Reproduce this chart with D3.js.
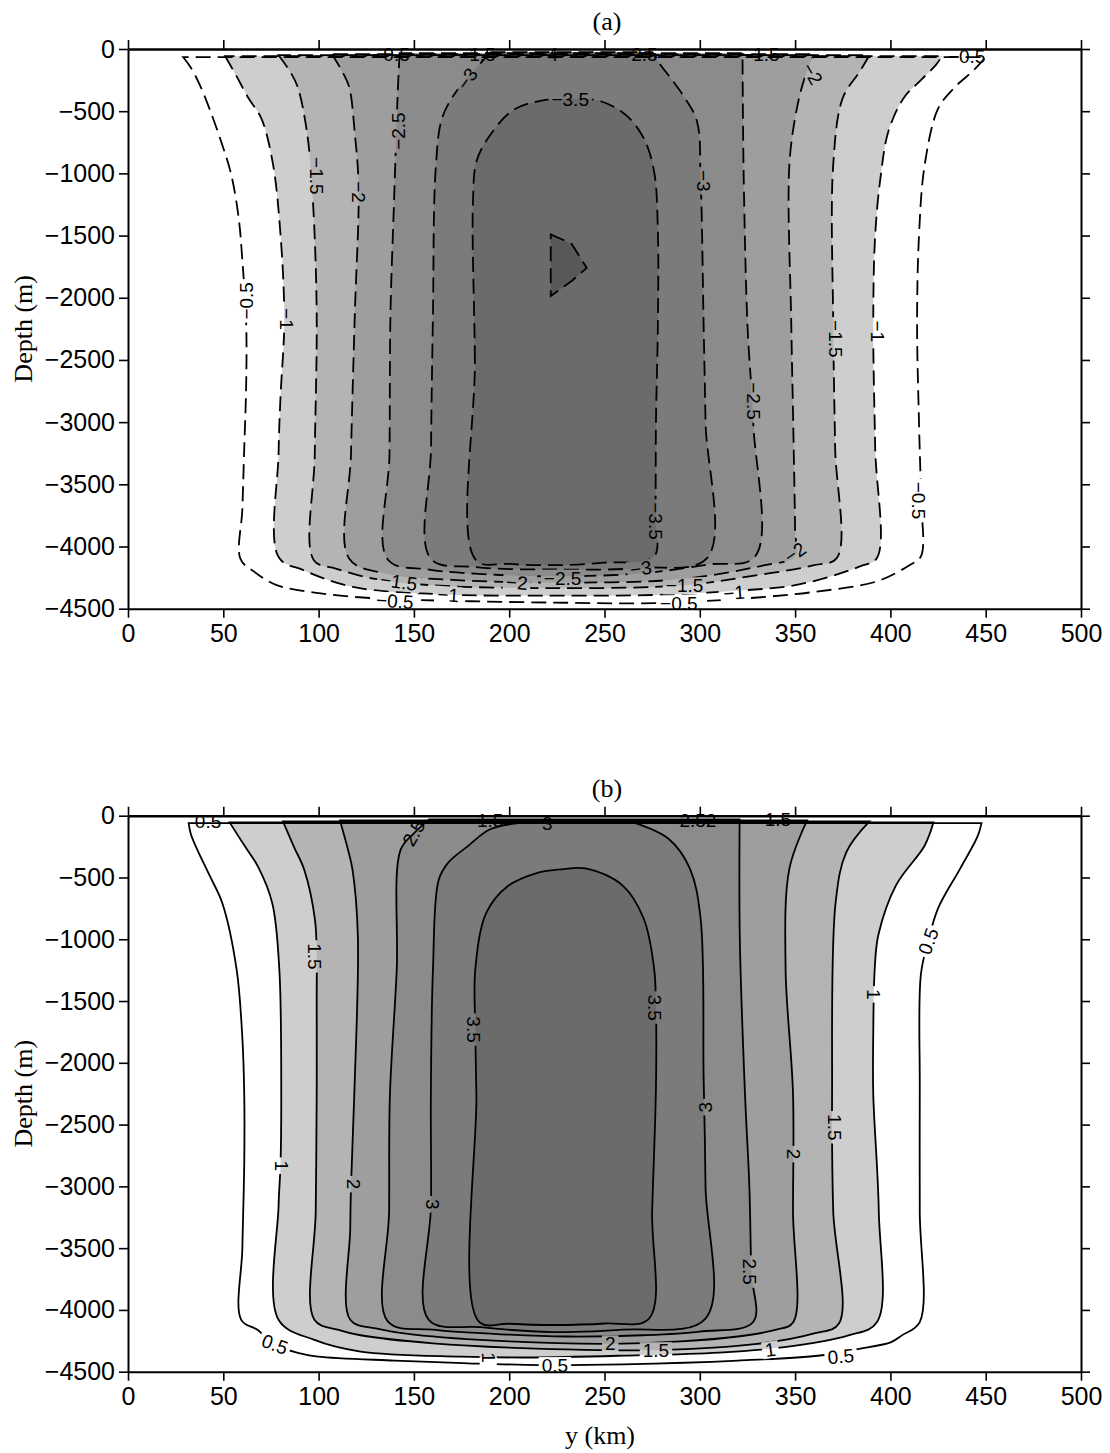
<!DOCTYPE html>
<html><head><meta charset="utf-8">
<script src="https://cdn.jsdelivr.net/npm/d3@7"></script>
<style>body{margin:0;background:#fff}</style>
</head><body>
<svg id="chart" width="1110" height="1453"></svg>
<script>
// ---------- data ----------
const xTicks = [0,50,100,150,200,250,300,350,400,450,500];
const yTicks = [0,-500,-1000,-1500,-2000,-2500,-3000,-3500,-4000,-4500];
const levelsA = [-0.5,-1,-1.5,-2,-2.5,-3,-3.5,-4];
const levelsB = [0.5,1,1.5,2,2.5,3,3.5];
const shades = ["#ffffff","#cecece","#b4b4b4","#9e9e9e","#8b8b8b","#7b7b7b","#6b6b6b","#585858"];

// panel (a) contour lines: [y km, depth m]
const cA_m05 = [[29,-66],[33,-150],[38,-300],[43,-490],[49,-750],[54,-1000],[58,-1350],[60,-1700],[62,-2200],[62,-2700],[61,-3200],[60,-3700],[59,-4100],[66,-4200],[78,-4310],[100,-4375],[130,-4417],[180,-4440],[230,-4452],[278,-4455],[326,-4415],[360,-4365],[393,-4280],[410,-4150],[416,-4080],[416,-3600],[415,-3000],[414,-2215],[415,-1500],[418,-930],[425,-480],[433,-320],[444,-166],[450,-66]];
const cA_m1 = [[51,-58],[57,-220],[63,-390],[70,-560],[76,-920],[80,-1490],[82,-2180],[80,-2800],[79,-3250],[79,-4085],[92,-4190],[118,-4325],[165,-4385],[220,-4395],[275,-4390],[315,-4360],[352,-4305],[384,-4160],[393,-4090],[392,-3200],[391,-2215],[392,-1500],[395,-1010],[399,-660],[407,-394],[416,-250],[424,-126],[427,-58]];
const cA_m15 = [[79,-50],[85,-180],[89,-304],[94,-680],[97,-1218],[99,-2132],[98,-3254],[97.5,-4110],[109,-4177],[128,-4257],[158,-4310],[225,-4335],[291,-4312],[326,-4240],[360,-4150],[372,-4090],[371,-3200],[370,-2215],[370,-930],[375,-394],[384,-179],[389,-50]];
const cA_m2 = [[107,-42],[112,-170],[116,-304],[119,-680],[121,-1110],[119,-2132],[117,-3254],[116,-4096],[135,-4217],[170,-4268],[225,-4290],[290,-4262],[334,-4150],[350,-4080],[350,-3875],[349,-3000],[348,-2215],[347,-930],[351,-474],[355,-233],[360,-42]];
const cA_m25 = [[142.5,-34],[141.5,-357],[139.6,-1218],[137.7,-2132],[137.2,-3254],[136.3,-4104],[158,-4185],[190,-4225],[225,-4240],[270,-4215],[304,-4145],[329,-4080],[328,-3000],[325,-2215],[323,-1000],[322.4,-34]];
const cA_m3 = [[190,-26],[183,-150],[174,-304],[165,-546],[161.5,-949],[160,-2132],[159,-3200],[158.8,-4096],[182,-4165],[225,-4185],[269,-4172],[304,-4090],[303,-3000],[302,-2215],[300.4,-1036],[298.5,-581],[291,-367],[278,-99],[275,-26]];
const cA_m35 = [[182.5,-4108],[182,-2500],[181,-1218],[183,-895],[190.6,-680],[202,-492],[217,-415],[233,-400],[248,-420],[261,-528],[270.5,-715],[276,-983],[278,-1465],[278,-2215],[277,-3000],[276.7,-3767],[276,-4080],[250,-4130],[225,-4150],[200,-4140]];
const cA_m4 = [[221.8,-1490],[232.8,-1567],[240.7,-1760],[232.8,-1865],[221.8,-1986]];

// panel (b) contour lines
const cB_05 = [[31.8,-60],[33,-150],[36.4,-277],[43,-490],[49.5,-708],[57,-1246],[60,-1800],[61,-2269],[61,-2800],[60,-3500],[59.4,-4080],[67.9,-4161],[77,-4283],[90.3,-4351],[99.7,-4378],[140,-4410],[178.4,-4432],[216,-4446],[260,-4440],[320,-4410],[363,-4369],[383.6,-4315],[400.4,-4261],[406,-4206],[415.4,-4098],[415.4,-3200],[415.4,-2196],[416,-1285],[419.8,-1017],[425,-750],[436.6,-428],[445.9,-161],[447.8,-60]];
const cB_1 = [[53.3,-54],[61,-240],[68.2,-412],[75.7,-708],[79.4,-1246],[80.4,-2269],[80,-2833],[79,-3159],[79,-4080],[97.8,-4243],[122,-4337],[174.7,-4378],[210,-4385],[260,-4370],[310,-4345],[344.4,-4301],[378,-4206],[393,-4098],[393.9,-3200],[391,-2249],[391,-1767],[391.8,-1231],[393.7,-964],[403,-562],[418,-241],[422.6,-54]];
const cB_15 = [[81.3,-46],[87,-250],[92.5,-439],[98.1,-843],[99,-1138],[99,-1462],[99,-2269],[98.5,-3200],[97.8,-4080],[110,-4160],[122,-4205],[160,-4270],[230,-4320],[277,-4325],[330,-4275],[360,-4190],[373,-4110],[370,-3200],[369.4,-2249],[371.3,-696],[376.9,-294],[389,-46]];
const cB_2 = [[111.2,-38],[115,-250],[117.8,-439],[120.6,-977],[118.7,-2269],[117,-3000],[116.6,-3348],[116.6,-4080],[130,-4150],[150,-4200],[200,-4255],[252.8,-4274],[290,-4255],[320,-4215],[340,-4160],[349,-4100],[348.9,-3200],[348.9,-2249],[345,-1231],[347,-428],[356.3,-38]];
const cB_25 = [[158,-30],[150,-143],[143,-277],[141,-1246],[137.4,-2269],[137,-3200],[136.3,-4093],[160,-4160],[200,-4200],[230,-4215],[270,-4205],[300,-4175],[328,-4098],[327,-3690],[326,-3000],[323.7,-2249],[321,-1000],[320.9,-30]];
const cB_3 = [[206,-58],[190,-110],[178,-250],[168,-380],[163,-520],[160,-1246],[158.9,-2269],[159,-3145],[157.8,-4080],[185,-4140],[222.9,-4179],[260,-4160],[303,-4070],[303,-3000],[302,-2115],[300.4,-830],[294.8,-428],[283.6,-187],[265,-54]];
const cB_35 = [[184,-4093],[182.8,-2269],[182.2,-1731],[182.2,-1246],[187.9,-789],[199,-573],[214,-466],[226.7,-435],[240.7,-428],[259.3,-562],[270.5,-830],[276,-1231],[277,-1553],[277,-2196],[275,-3200],[273.4,-4070],[250,-4110],[222.9,-4122],[200,-4112]];

// contour labels: [text, y km, depth m, rotation deg]
const labelsA = [
  ["−0.5",62,-2025,-90],["−1",83,-2170,90],["−1.5",99,-1020,90],["−2",121,-1150,90],
  ["−2.5",142,-660,-90],["−3",178,-241,-55],["−3.5",232,-405,0],["−3",302,-1060,90],
  ["−2.5",328,-2830,90],["−2",359,-200,60],["−1.5",371,-2330,90],["−1",393,-2270,90],
  ["−0.5",415,-3630,90],["−3.5",277,-3795,90],
  ["−1.5",142,-4285,8],["−0.5",140,-4440,4],["−1",168,-4390,4],["−2",204,-4292,4],
  ["−2.5",228,-4255,0],["−3",269,-4178,-8],["−1.5",292,-4316,0],["−1",318,-4373,-4],
  ["−0.5",289,-4462,0],["−2",350,-4050,-35]
];
const topLabelsA = [["−0.5",138,-45,0],["−1.5",183,-45,0],["−4",220,-45,0],["−2.5",268,-45,0],["−1.5",332,-45,0],["−0.5",440,-60,0]];
const labelsB = [
  ["1.5",98,-1139,90],["3.5",181.5,-1731,90],["3.5",276,-1553,90],["1",391,-1446,90],
  ["0.5",420,-1017,-70],["1",80.5,-2833,90],["2",118.5,-2982,90],["3",160,-3145,90],
  ["3",303,-2359,-90],["1.5",370.5,-2522,90],["2",349,-2739,90],["2.5",326,-3690,90],
  ["0.5",77,-4280,20],["1",189,-4385,90],["0.5",224,-4450,0],["2",253,-4274,0],
  ["1.5",277,-4330,0],["1",337,-4322,-8],["0.5",374,-4377,-5]
];
const topLabelsB = [["0.5",42,-50,0],["2.5",150,-140,-60],["1.5",190,-40,0],["3",220,-62,0],["2.52",299,-40,0],["1.5",341,-32,0]];

// ---------- drawing ----------
const svg = d3.select("#chart");
const X0 = 128, X1 = 1081;
const x = d3.scaleLinear().domain([0,500]).range([X0,X1]);
const SANS = "'Liberation Sans', Arial, Helvetica, sans-serif";
const SERIF = "'Liberation Serif', 'Times New Roman', serif";

function drawPanel(id, top, bottom, contours, labels, topLabels, dashed, title, showXLabel) {
  const y = d3.scaleLinear().domain([0,-4500]).range([top,bottom]);
  const g = svg.append("g");
  const defs = svg.append("defs");
  defs.append("clipPath").attr("id","clip"+id).append("rect")
    .attr("x",X0).attr("y",top).attr("width",X1-X0).attr("height",bottom-top);
  const mask = defs.append("mask").attr("id","mask"+id).attr("maskUnits","userSpaceOnUse")
    .attr("x",0).attr("y",0).attr("width",1110).attr("height",1453);
  mask.append("rect").attr("x",0).attr("y",0).attr("width",1110).attr("height",1453).attr("fill","#fff");
  const fs = 19;
  labels.forEach(l=>{
    let w = 0; for (const ch of l[0]) w += (ch==="."?0.28:(ch==="−"?0.58:0.556))*fs;
    mask.append("rect").attr("x",-w/2-3).attr("y",-fs*0.45).attr("width",w+6).attr("height",fs*0.9)
      .attr("transform",`translate(${x(l[1])},${y(l[2])}) rotate(${l[3]})`).attr("fill","#000");
  });

  const lineOpen = d3.line().x(d=>x(d[0])).y(d=>y(d[1])).curve(d3.curveCatmullRom.alpha(0.5));
  const lineLoop = d3.line().x(d=>x(d[0])).y(d=>y(d[1])).curve(d3.curveCatmullRomClosed.alpha(0.5));
  const linePoly = d3.line().x(d=>x(d[0])).y(d=>y(d[1])).curve(d3.curveLinearClosed);
  const pathOf = c => c.type==="open" ? lineOpen(c.pts)+"Z" : (c.type==="loop" ? lineLoop(c.pts) : linePoly(c.pts));

  const fills = g.append("g").attr("clip-path",`url(#clip${id})`);
  contours.forEach(c=>{
    fills.append("path").attr("d",pathOf(c)).attr("fill",shades[c.shade]).attr("stroke","none");
  });
  const lines = g.append("g").attr("clip-path",`url(#clip${id})`).append("g").attr("mask",`url(#mask${id})`);
  contours.forEach(c=>{
    lines.append("path").attr("d",pathOf(c)).attr("fill","none").attr("stroke","#000")
      .attr("stroke-width",1.8).attr("stroke-dasharray",dashed?"15,7":null);
  });

  const lab = g.append("g").attr("font-family",SANS).attr("font-size",fs).attr("fill","#000")
    .attr("text-anchor","middle").attr("dominant-baseline","central");
  labels.concat(topLabels).forEach(l=>{
    lab.append("text").attr("transform",`translate(${x(l[1])},${y(l[2])}) rotate(${l[3]})`).text(l[0]);
  });

  // axes
  const fmt = d => d<0 ? "−"+Math.abs(d) : String(d);
  const ax = [
    g.append("g").attr("transform",`translate(${X0},0)`).call(d3.axisLeft(y).tickValues(yTicks).tickFormat(fmt).tickSize(9).tickSizeOuter(0).tickPadding(4)),
    g.append("g").attr("transform",`translate(0,${bottom})`).call(d3.axisBottom(x).tickValues(xTicks).tickSize(9).tickSizeOuter(0).tickPadding(7)),
    g.append("g").attr("transform",`translate(0,${top})`).call(d3.axisTop(x).tickValues(xTicks).tickFormat("").tickSize(9).tickSizeOuter(0)),
    g.append("g").attr("transform",`translate(${X1},0)`).call(d3.axisRight(y).tickValues(yTicks).tickFormat("").tickSize(9).tickSizeOuter(0))
  ];
  ax.forEach(a=>{
    a.attr("font-family",SANS).attr("font-size",25);
    a.select(".domain").attr("stroke-width",2);
    a.selectAll(".tick line").attr("stroke-width",1.6);
    a.selectAll("text").attr("fill","#000");
  });
  ax[2].select(".domain").attr("stroke-width",2.6);

  g.append("text").attr("x",607).attr("y",top-19).attr("text-anchor","middle")
    .attr("font-family",SERIF).attr("font-size",26).text(title);
  g.append("text").attr("transform",`translate(32,${(top+bottom)/2}) rotate(-90)`).attr("text-anchor","middle")
    .attr("font-family",SERIF).attr("font-size",26).text("Depth (m)");
  if (showXLabel) {
    g.append("text").attr("x",600).attr("y",bottom+72).attr("text-anchor","middle")
      .attr("font-family",SERIF).attr("font-size",26).text("y (km)");
  }
}

const contoursA = [
  {pts:cA_m05,type:"open",shade:0},{pts:cA_m1,type:"open",shade:1},{pts:cA_m15,type:"open",shade:2},
  {pts:cA_m2,type:"open",shade:3},{pts:cA_m25,type:"open",shade:4},{pts:cA_m3,type:"open",shade:5},
  {pts:cA_m35,type:"loop",shade:6},{pts:cA_m4,type:"poly",shade:7}
];
const contoursB = [
  {pts:cB_05,type:"open",shade:0},{pts:cB_1,type:"open",shade:1},{pts:cB_15,type:"open",shade:2},
  {pts:cB_2,type:"open",shade:3},{pts:cB_25,type:"open",shade:4},{pts:cB_3,type:"open",shade:5},
  {pts:cB_35,type:"loop",shade:6}
];
drawPanel("A",49,608.7,contoursA,labelsA,topLabelsA,true,"(a)",false);
drawPanel("B",815.7,1371.7,contoursB,labelsB,topLabelsB,false,"(b)",true);
</script>
</body></html>
